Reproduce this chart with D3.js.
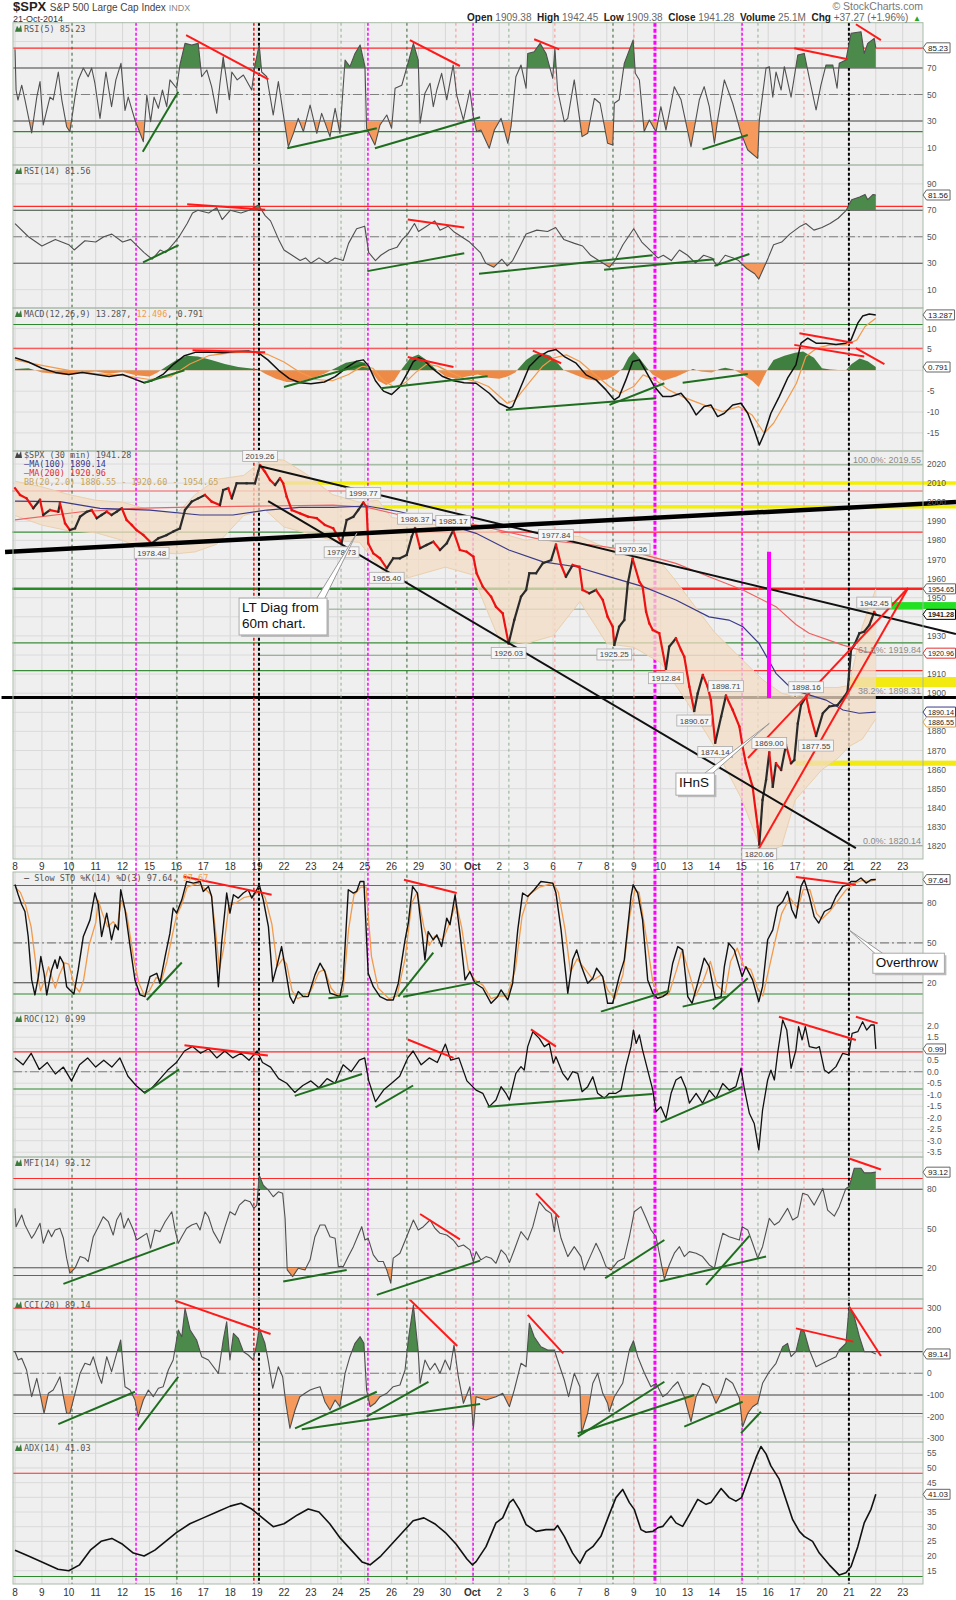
<!DOCTYPE html>
<html><head><meta charset="utf-8">
<script src="https://cdn.jsdelivr.net/npm/d3@7"></script>
<style>html,body{margin:0;padding:0;background:#fff}svg{display:block;font-family:Arial,"Liberation Sans",sans-serif}</style>
</head><body><svg id="chart" width="956" height="1600"></svg>
<script>
// ---------------- DATA (time in trading days from 8-Sep, value in indicator units) ----------------
const dateLabels = ["8","9","10","11","12","15","16","17","18","19","22","23","24","25","26","29","30","Oct","2","3","6","7","8","9","10","13","14","15","16","17","20","21","22","23"];
const markerDays  = [2.12,4.5,6.02,8.88,9.07,12.12,13.12,14.57,16.39,17.03,18.36,20.07,22.23,23.01,23.79,27.03,27.62,29.33,31.0];
const markerKinds = ["dg","mg","dg","rd","bk","gg","mg","dg","lr","mg","gg","lr","dg","lr","mgT","mg","gg","lr","bk"];

const rsi5 = [[0,84.1],[0.04,53.4],[0.11,45.8],[0.25,57],[0.37,46],[0.62,21],[0.81,48],[0.93,59.7],[1.05,27],[1.30,48],[1.42,46],[1.61,67],[1.74,46],[1.92,25.7],[2.04,22],[2.23,48],[2.35,61],[2.54,70],[2.72,63.4],[2.85,70],[2.97,58.5],[3.16,32],[3.38,67],[3.59,40.8],[3.75,61],[3.94,73.5],[4.09,38],[4.21,48],[4.46,30.7],[4.77,14.4],[4.90,49.6],[5.04,29.5],[5.17,48],[5.33,39.6],[5.48,53.4],[5.64,40.8],[5.76,61],[6.01,54.7],[6.13,72.3],[6.32,88.6],[6.57,87.4],[6.81,88.6],[6.94,63.4],[7.13,68.5],[7.31,55.9],[7.50,35.8],[7.62,58.5],[7.74,78.5],[7.97,46],[8.06,67],[8.26,61],[8.49,64.7],[8.80,53.4],[8.92,72.3],[9.08,87.4],[9.17,67],[9.36,63.4],[9.60,34.5],[9.79,59.7],[9.97,35.8],[10.16,10.6],[10.35,20.7],[10.53,32],[10.72,22],[10.97,42],[11.22,20.7],[11.40,35.8],[11.71,18.2],[11.90,39.6],[12.08,20.7],[12.27,76],[12.45,71],[12.64,81],[12.83,87.4],[13.01,71],[13.07,24.5],[13.38,11.9],[13.57,27],[13.82,34.5],[14.00,24.5],[14.13,54.7],[14.38,57],[14.56,70],[14.81,88.6],[14.99,76],[15.06,28.3],[15.24,51],[15.43,58.5],[15.55,40.8],[15.68,53.4],[15.86,66],[16.05,46],[16.29,72.3],[16.42,49.6],[16.67,30.7],[16.91,53.4],[17.04,33.2],[17.16,22],[17.32,23.2],[17.63,9.4],[17.82,23.2],[18.07,32],[18.32,13.2],[18.44,25.7],[18.62,63.4],[18.81,72.3],[19.00,54.7],[19.06,81],[19.30,82.3],[19.52,88.6],[19.74,81],[19.99,62.2],[20.07,84.9],[20.17,53.4],[20.42,29.5],[20.55,32],[20.79,61],[21.08,18.2],[21.29,20.7],[21.54,47],[21.75,43.4],[22.03,13.2],[22.22,11.9],[22.28,43.4],[22.46,46],[22.65,73.5],[22.98,91.1],[23.06,66],[23.21,61],[23.39,22],[23.58,30.7],[23.83,22],[24.01,40.8],[24.20,23.2],[24.51,55.9],[24.76,46],[25.13,10.6],[25.44,46],[25.62,55.9],[25.81,40.8],[26.00,13.2],[26.12,30.7],[26.37,61],[26.68,43.4],[26.99,20.7],[27.24,8.1],[27.61,1.8],[27.67,30.7],[27.92,70],[28.04,71],[28.17,48],[28.29,67],[28.48,53.4],[28.60,71],[28.85,48],[29.10,79.8],[29.34,81],[29.53,62.2],[29.78,38.3],[29.96,57],[30.15,72.3],[30.40,72.3],[30.56,54.7],[30.64,73.5],[30.89,76],[31.08,96.2],[31.45,97.4],[31.57,81],[31.70,88.6],[31.94,92.4],[32.0,85.23]];

const rsi14 = [[0,60],[0.5,50],[1.0,43],[1.5,48],[2.0,44],[2.2,40],[2.6,47],[3.0,46],[3.3,50],[3.6,52],[4.0,46],[4.3,48],[4.6,42],[4.8,38],[5.1,33],[5.4,40],[5.6,38],[5.9,45],[6.1,50],[6.4,60],[6.6,68],[6.8,70],[7.2,68],[7.5,72],[7.7,63],[8.0,70],[8.4,68],[8.7,70],[9.05,74],[9.3,66],[9.5,62],[9.8,48],[10.0,40],[10.3,36],[10.6,32],[10.8,34],[11.0,30],[11.3,34],[11.6,30],[11.9,34],[12.2,32],[12.4,45],[12.7,56],[13.0,58],[13.15,38],[13.4,32],[13.6,36],[13.9,40],[14.2,42],[14.4,48],[14.6,52],[14.85,60],[15.0,54],[15.3,58],[15.6,62],[15.8,55],[16.1,58],[16.3,54],[16.6,50],[16.9,46],[17.1,42],[17.3,38],[17.5,30],[17.8,27],[18.1,33],[18.3,28],[18.5,32],[18.8,44],[19.0,52],[19.4,55],[19.8,54],[20.1,57],[20.4,48],[20.8,45],[21.1,43],[21.4,36],[21.7,32],[22.1,27],[22.3,32],[22.6,44],[23.0,56],[23.3,46],[23.6,40],[23.9,34],[24.1,36],[24.4,32],[24.7,40],[25.0,36],[25.3,30],[25.6,36],[25.9,34],[26.1,28],[26.4,36],[26.7,34],[26.9,32],[27.2,26],[27.5,22],[27.65,18],[28.0,34],[28.2,44],[28.5,46],[28.8,52],[29.2,58],[29.4,60],[29.7,55],[30.0,57],[30.3,60],[30.6,64],[30.9,70],[31.1,78],[31.4,80],[31.6,82],[31.7,78],[31.9,82],[32,81.56]];

const macdLine = [[0,3],[0.5,2],[1.0,0.5],[1.5,-0.5],[2.0,-1],[2.5,-0.5],[3.0,-1],[3.5,-1.5],[4.0,-1],[4.4,-2],[4.8,-3],[5.1,-2.5],[5.5,-1],[5.9,1.5],[6.3,3.5],[6.7,4.3],[7.2,4.4],[7.7,4.2],[8.2,4.5],[8.7,4.6],[9.05,4.2],[9.4,2.5],[9.8,0],[10.2,-2],[10.6,-3],[11.0,-3.2],[11.5,-2.8],[11.9,-1.5],[12.3,0.5],[12.7,2.2],[12.95,2.5],[13.15,1],[13.4,-2.5],[13.7,-5],[14.0,-5.8],[14.3,-4],[14.6,-0.5],[14.8,2],[15.0,3],[15.2,2.5],[15.5,0.5],[15.9,-1.5],[16.3,-2.5],[16.7,-3],[17.14,-3.1],[17.63,-5.5],[18.0,-7.9],[18.38,-9.1],[18.5,-8.7],[18.81,-3.9],[19.12,0.9],[19.49,3.3],[19.8,4.5],[20.11,5.0],[20.42,3.3],[20.86,1.7],[21.23,-1.1],[21.6,-2.3],[21.97,-4.7],[22.28,-7.1],[22.46,-6.3],[22.71,-2.3],[22.96,2.1],[23.21,2.5],[23.46,-0.3],[23.77,-3.9],[24.08,-6.3],[24.39,-6.3],[24.76,-5.5],[25.07,-7.9],[25.32,-10.7],[25.62,-8.7],[25.87,-8.3],[26.12,-11.1],[26.37,-10.3],[26.68,-8.3],[26.99,-7.9],[27.24,-10.3],[27.48,-14.3],[27.67,-17.9],[27.86,-15.1],[28.1,-10.3],[28.41,-6.3],[28.72,-1.9],[29.03,1.3],[29.22,6.5],[29.47,7.7],[29.78,6.5],[30.15,6.5],[30.52,6.2],[30.89,6.5],[31.08,7.3],[31.33,11.3],[31.51,13.0],[31.76,13.5],[32,13.287]];
const macdSignal = [[0,2.5],[1,1.2],[2,0],[3,-0.8],[4,-1.2],[5,-2.2],[5.8,-1.5],[6.5,1.5],[7.2,3.5],[8,4.2],[8.8,4.4],[9.4,3.8],[10,2],[10.6,-0.5],[11.2,-2.2],[11.8,-2.5],[12.4,-1],[12.9,1],[13.3,0.5],[13.7,-2.5],[14.1,-4],[14.5,-3],[14.9,-0.5],[15.3,1.5],[15.7,1],[16.2,-0.5],[16.7,-2],[17.2,-2.8],[17.6,-3.9],[18.3,-7.9],[18.6,-7.1],[19.1,-3.1],[19.6,0.9],[20,2.9],[20.5,3.7],[21,2.1],[21.5,-0.7],[22.1,-3.9],[22.5,-5.5],[23,-3.9],[23.35,-1.1],[23.8,-2.3],[24.3,-4.7],[24.8,-6.3],[25.6,-8.3],[26.3,-9.9],[26.9,-8.7],[27.4,-10.7],[27.85,-15.1],[28.2,-12.7],[28.7,-7.1],[29.05,-3.1],[29.4,3.3],[29.8,5.3],[30.3,6.1],[30.9,6.1],[31.3,7.3],[31.6,10.5],[32,12.496]];
const macdHist = [[0,0.3],[0.5,0.5],[1.0,-0.5],[1.5,-0.8],[2.0,-1.2],[2.5,-0.5],[3.0,-0.3],[3.5,-0.8],[4.0,-0.4],[4.5,-1.2],[5.0,-1.5],[5.3,-0.5],[5.6,0.8],[6.0,2.5],[6.4,3.5],[6.8,3.3],[7.3,2.5],[7.8,1.5],[8.3,0.8],[8.7,0.5],[9.0,0.3],[9.3,-0.8],[9.7,-2],[10.1,-2.8],[10.5,-2.8],[11.0,-2],[11.5,-0.8],[11.9,0.5],[12.3,1.8],[12.7,2.3],[13.0,1.8],[13.2,0.2],[13.5,-2.5],[13.8,-3.5],[14.1,-2.5],[14.4,0.5],[14.7,3],[15.0,3.8],[15.3,2.5],[15.6,0.5],[16.0,-1.5],[16.4,-2],[16.8,-1.5],[17.2,-1],[17.6,-1.8],[18.0,-2],[18.3,-1.5],[18.6,-0.5],[18.7,0.3],[19.0,2.5],[19.3,3.8],[19.6,4.1],[19.9,3.5],[20.2,1.5],[20.4,0],[20.8,-1],[21.2,-2],[21.6,-2.5],[22.0,-2.2],[22.3,-1.2],[22.6,0.5],[22.8,3],[23.0,4.5],[23.2,3],[23.5,0.5],[23.7,-1],[24.1,-2.5],[24.6,-1.5],[25.0,-0.3],[25.2,0.3],[25.5,-0.3],[25.9,-0.5],[26.2,0.3],[26.4,0.6],[26.7,0.2],[27.0,-0.8],[27.4,-2.5],[27.65,-4],[27.8,-2],[28.0,0.5],[28.2,2.5],[28.6,3.5],[29.0,4.2],[29.3,4.5],[29.7,3],[30.0,0.5],[30.3,0.2],[30.6,0.1],[30.9,0.1],[31.1,1.5],[31.4,2.8],[31.7,2.2],[32,0.791]];

const priceClose = [[0,2007.3],[0.19,2003.8],[0.43,2002],[0.68,1996.8],[0.93,2001.2],[1.05,1993.3],[1.30,1995.9],[1.61,1995],[1.67,1999.4],[1.86,1989],[2.04,1985.4],[2.23,1986.3],[2.42,1992.4],[2.67,1995],[2.85,1995.9],[3.04,1991.6],[3.22,1993.3],[3.41,1995],[3.59,1993.3],[3.78,1995],[3.97,1996.8],[4.15,1990.7],[4.34,1988.1],[4.52,1985.4],[4.77,1982.8],[5.08,1978.5],[5.33,1981.1],[5.64,1982.8],[5.88,1984.6],[6.13,1986.3],[6.32,1995.9],[6.57,2000.3],[6.81,2002],[7.06,2003.8],[7.31,2000.3],[7.62,1998.5],[7.74,2006.4],[7.93,2007.3],[8.06,2002],[8.24,2009.9],[8.61,2009.9],[8.92,2009.9],[9.04,2016],[9.11,2019.3],[9.29,2016],[9.48,2011.6],[9.67,2009],[9.85,2012.5],[9.97,2009.9],[10.10,2002.9],[10.29,1995.9],[10.59,1994.2],[10.90,1992.4],[11.22,1991.6],[11.52,1988.1],[11.83,1986.3],[12.14,1978.7],[12.33,1990.7],[12.58,1992.4],[12.76,1995.9],[12.95,1999.8],[13.07,1997.6],[13.13,1978.5],[13.32,1973.2],[13.57,1970.6],[13.82,1965.4],[14.06,1970.6],[14.31,1970.6],[14.56,1972.4],[14.75,1982],[14.87,1986.4],[15.06,1975.9],[15.30,1977.6],[15.55,1979.3],[15.80,1975],[16.05,1978.5],[16.29,1985.2],[16.54,1975],[16.79,1974.1],[17.04,1971.5],[17.16,1962.8],[17.39,1955.8],[17.70,1950.5],[17.88,1945.3],[18.13,1941.8],[18.35,1926.0],[18.56,1938.3],[18.81,1950.5],[19.00,1954],[19.12,1962.8],[19.37,1962.8],[19.62,1968],[19.93,1969.7],[20.11,1977.8],[20.30,1967.1],[20.48,1961],[20.73,1967.1],[20.98,1966.2],[21.10,1954],[21.35,1952.3],[21.60,1954],[21.85,1948.8],[22.03,1940],[22.22,1934.8],[22.28,1925.3],[22.46,1934.8],[22.65,1938.3],[22.78,1957.5],[22.96,1970.4],[23.21,1958.4],[23.33,1955.8],[23.46,1942.7],[23.58,1936.6],[23.71,1933.1],[23.95,1931.4],[24.20,1912.8],[24.32,1924.3],[24.57,1928.7],[24.76,1922.6],[24.88,1919.1],[25.07,1903.4],[25.25,1890.7],[25.38,1899.9],[25.57,1909.5],[25.75,1903.4],[25.87,1896.4],[26.03,1874.1],[26.25,1887.7],[26.43,1898.7],[26.68,1891.2],[26.93,1882.5],[27.05,1872],[27.17,1863.3],[27.42,1851],[27.61,1830.1],[27.67,1820.7],[27.79,1844.1],[27.92,1854.6],[28.04,1869.0],[28.17,1851],[28.29,1863.3],[28.48,1859.8],[28.66,1872.9],[28.85,1863.3],[28.97,1865],[29.10,1884.2],[29.22,1893.8],[29.41,1898.2],[29.53,1890.3],[29.78,1877.6],[30.03,1889.5],[30.27,1893],[30.58,1893.8],[30.83,1898.2],[30.95,1900.8],[31.08,1922.6],[31.20,1925.2],[31.39,1931.4],[31.57,1932.2],[31.76,1935.7],[31.94,1942.45],[32.0,1941.28]];
const ma100 = [[0,2000.6],[1.67,2000.3],[3.16,1996.8],[5.02,1995.9],[6.88,1993.3],[8.10,1993.3],[9.37,1995.9],[10.59,1997.3],[11.82,1997.3],[13.09,1998],[14.31,1995],[15.54,1990.7],[17.14,1983.7],[18.36,1975],[19.63,1968.8],[20.86,1966.2],[22.08,1961],[23.35,1955.8],[24.57,1948.8],[25.8,1940],[26.54,1938.3],[27.06,1934.8],[27.66,1926.1],[28.29,1910.4],[28.92,1901.7],[29.52,1899.1],[30.15,1896.4],[30.78,1891.2],[31.38,1889.5],[32,1890.14]];
const ma200 = [[0,1990.7],[2.48,1995],[4.39,1996.8],[6.88,1997.6],[9.37,1998],[11.82,1998.5],[13.09,1997.3],[14.31,1993.3],[15.54,1990.7],[17.14,1988.1],[19.63,1980.2],[21.49,1977.6],[22.71,1975],[24.57,1968],[25.8,1961],[27.06,1954],[28.29,1945.3],[29.03,1936],[29.52,1931.4],[30.78,1925.2],[31.64,1921.7],[32,1920.96]];
const bbUpper = [[0,2011],[1,2008],[2,2004],[3,2001],[4,2000],[5,1996],[6,1994],[6.7,2004],[7.5,2012],[8.5,2014],[9.3,2023],[10,2022],[10.8,2015],[11.8,2004],[12.8,2000],[13.5,2001],[14,1992],[15,1990],[16,1987],[17,1988],[18,1984],[19,1980],[20,1983],[21,1982],[22,1976],[23,1974],[23.8,1972],[24.5,1960],[25.3,1945],[26,1932],[27,1918],[27.8,1907],[28.5,1900],[29,1898],[30,1903],[30.6,1903],[31,1904],[31.5,1935],[32,1954.65]];
const bbLower = [[0,1993],[1,1988],[2,1985],[3,1984],[4,1980],[5,1974],[6,1973],[6.7,1974],[7.5,1978],[8.5,1993],[9.3,1996],[10,1987],[10.8,1984],[11.8,1980],[12.8,1979],[13.5,1967],[14,1958],[15,1962],[16,1966],[17,1962],[18,1928],[19,1926],[20,1930],[21,1948],[22,1926],[23,1924],[24,1916],[25,1895],[26,1872],[27,1845],[27.8,1816],[28.5,1820],[29,1844],[30,1860],[30.6,1866],[31,1872],[31.5,1876],[32,1886.55]];
const priceHighLabels = [[9.11,2019.26,"2019.26"],[12.95,1999.77,"1999.77"],[14.87,1986.37,"1986.37"],[16.29,1985.17,"1985.17"],[20.11,1977.84,"1977.84"],[22.96,1970.36,"1970.36"],[26.43,1898.71,"1898.71"],[28.04,1869.00,"1869.00"],[29.41,1898.16,"1898.16"],[31.94,1942.45,"1942.45"]];
const priceLowLabels = [[5.08,1978.48,"1978.48"],[12.14,1978.73,"1978.73"],[13.82,1965.40,"1965.40"],[18.35,1926.03,"1926.03"],[22.28,1925.25,"1925.25"],[24.20,1912.84,"1912.84"],[25.25,1890.67,"1890.67"],[26.03,1874.14,"1874.14"],[27.67,1820.66,"1820.66"],[29.78,1877.55,"1877.55"]];

const stoK = [[0,93.9],[0.12,86.2],[0.25,78.7],[0.37,73.6],[0.49,54.8],[0.62,22.1],[0.74,10.8],[0.87,24.6],[0.96,39.7],[1.08,27.1],[1.18,10.8],[1.36,29.6],[1.49,37.2],[1.57,30.9],[1.67,39.7],[1.80,34.7],[1.92,17],[2.19,11.5],[2.35,29.6],[2.54,54.8],[2.79,67.3],[2.97,87.5],[3.10,78.7],[3.22,54.8],[3.41,72.4],[3.59,52.3],[3.72,63.6],[3.84,59.8],[3.93,90],[4.09,74.9],[4.28,47.2],[4.46,22.1],[4.65,10.8],[4.83,9.5],[5.02,24.6],[5.27,27.1],[5.39,19.6],[5.58,39.7],[5.76,57.3],[5.88,76.2],[6.01,72.4],[6.20,82.4],[6.38,96.2],[6.63,95],[6.88,96.2],[7.00,88.7],[7.19,92.5],[7.31,84.9],[7.43,54.8],[7.56,17],[7.68,49.8],[7.87,87.5],[7.99,72.4],[8.12,86.2],[8.30,83.7],[8.49,87.5],[8.67,90],[8.80,83.7],[8.99,90],[9.08,93.7],[9.23,82.4],[9.42,62.3],[9.58,20.8],[9.73,32.1],[9.91,47.2],[10.04,32.1],[10.22,9.5],[10.35,4.5],[10.53,13.3],[10.72,9.5],[10.90,9.5],[11.15,25.9],[11.34,34.7],[11.52,28.4],[11.71,12.1],[11.90,10.8],[12.08,9.5],[12.20,22.1],[12.39,90],[12.58,87.5],[12.70,88.7],[12.83,96.2],[12.97,96.2],[13.13,27.1],[13.32,17],[13.57,9.5],[13.82,7],[14.06,7],[14.25,19.6],[14.50,52.3],[14.62,64.9],[14.78,92.5],[14.96,87.5],[15.12,59.8],[15.24,37.2],[15.36,58.5],[15.55,52.3],[15.68,56],[15.86,47.2],[16.05,68.6],[16.17,63.6],[16.36,86.2],[16.54,57.3],[16.73,22.1],[16.91,28.4],[17.10,19.6],[17.39,15.8],[17.70,4.5],[17.94,9.5],[18.07,14.6],[18.32,7],[18.50,19.6],[18.69,59.8],[18.87,87.5],[19.06,84.9],[19.30,90],[19.55,96.2],[19.99,95],[20.11,87.5],[20.30,59.8],[20.55,12.1],[20.73,37.2],[20.88,44.7],[21.04,33.4],[21.29,19.6],[21.48,23.4],[21.62,30.9],[21.85,24.6],[22.03,4.5],[22.22,4.5],[22.46,24.6],[22.65,37.2],[22.90,84.9],[22.98,93.7],[23.15,87.5],[23.33,67.3],[23.52,22.1],[23.71,12.1],[23.89,8.3],[24.08,9.5],[24.26,12.1],[24.45,34.7],[24.64,47.2],[24.82,44.7],[25.01,9.5],[25.17,4.5],[25.38,19.6],[25.62,38.5],[25.81,32.1],[26.03,8.3],[26.25,9.5],[26.37,32.1],[26.53,49.8],[26.74,44.7],[27.03,24.6],[27.17,32.1],[27.42,22.1],[27.65,5.7],[27.79,17],[27.98,52.3],[28.17,59.8],[28.35,77.4],[28.54,81.1],[28.72,88.7],[28.88,74.9],[29.03,68.6],[29.22,92.5],[29.34,97.5],[29.53,84.9],[29.71,69.8],[29.88,64.9],[30.09,73.6],[30.33,76.2],[30.52,84.9],[30.77,92.5],[30.96,93.7],[31.08,96.2],[31.26,96.2],[31.45,98.8],[31.64,95],[31.82,97.5],[32,97.64]];
const stoD = [[0,92],[0.2,88],[0.4,78],[0.6,62],[0.8,30],[0.95,14],[1.1,22],[1.25,32],[1.4,22],[1.5,16],[1.65,26],[1.85,35],[2.0,34],[2.2,18],[2.4,13],[2.55,22],[2.75,48],[3.0,65],[3.1,82],[3.25,72],[3.45,62],[3.65,66],[3.8,62],[3.95,82],[4.15,72],[4.4,40],[4.6,20],[4.8,11],[5.0,14],[5.25,24],[5.45,22],[5.65,36],[5.85,56],[6.0,70],[6.2,79],[6.4,92],[6.8,95],[7.1,90],[7.3,86],[7.45,60],[7.6,30],[7.75,45],[7.95,78],[8.2,80],[8.5,84],[8.9,86],[9.1,90],[9.3,84],[9.55,64],[9.75,32],[9.95,38],[10.1,34],[10.3,14],[10.5,8],[10.75,10],[11.0,14],[11.3,28],[11.5,30],[11.75,16],[12.0,10],[12.2,14],[12.4,60],[12.6,86],[12.85,92],[13.05,92],[13.25,40],[13.5,16],[13.9,8],[14.2,10],[14.5,38],[14.75,80],[14.95,88],[15.2,62],[15.4,48],[15.6,55],[15.9,52],[16.1,62],[16.4,80],[16.6,62],[16.85,30],[17.1,22],[17.4,18],[17.7,8],[18.0,10],[18.3,10],[18.6,30],[18.85,70],[19.1,86],[19.5,92],[20.0,95],[20.2,88],[20.45,60],[20.65,28],[20.9,38],[21.2,30],[21.5,22],[21.8,26],[22.05,14],[22.3,8],[22.6,26],[22.85,70],[23.05,90],[23.2,88],[23.5,50],[23.7,22],[23.95,10],[24.3,11],[24.6,30],[24.8,45],[25.05,28],[25.3,10],[25.6,22],[25.85,36],[26.1,18],[26.4,12],[26.6,36],[26.85,46],[27.1,32],[27.35,30],[27.6,16],[27.8,10],[28.0,28],[28.3,55],[28.5,72],[28.8,84],[29.1,76],[29.3,90],[29.55,90],[29.8,72],[30.0,68],[30.3,74],[30.6,82],[30.9,90],[31.2,95],[31.5,97],[31.75,96],[32,97.67]];

const roc = [[0,0.6],[0.3,0.3],[0.6,0.8],[0.9,0.1],[1.2,0.4],[1.5,-0.1],[1.8,0.2],[2.1,-0.4],[2.4,0.3],[2.7,0.6],[3.0,0.2],[3.3,0.5],[3.6,0.2],[3.9,0.6],[4.2,-0.2],[4.5,-0.6],[4.8,-0.9],[5.1,-0.7],[5.4,-0.3],[5.7,0.1],[6.0,0.4],[6.3,0.9],[6.6,1.1],[6.9,0.8],[7.2,1.0],[7.5,0.6],[7.8,0.9],[8.1,0.6],[8.4,0.8],[8.7,0.5],[9.0,0.9],[9.2,0.4],[9.5,0.2],[9.8,-0.3],[10.1,-0.5],[10.4,-0.9],[10.7,-0.6],[11.0,-0.4],[11.3,-0.7],[11.6,-0.3],[11.9,-0.5],[12.2,0.3],[12.5,0.0],[12.8,0.5],[13.0,0.6],[13.15,-0.4],[13.4,-1.3],[13.7,-0.8],[14.0,-0.5],[14.3,-0.2],[14.6,0.6],[14.8,0.9],[15.1,0.3],[15.4,0.6],[15.7,0.4],[16.0,1.2],[16.2,0.5],[16.5,0.6],[16.8,-0.4],[17.14,-0.8],[17.39,-0.94],[17.63,-1.52],[17.88,-1.23],[18.07,-0.65],[18.25,-0.94],[18.38,-1.23],[18.50,-0.65],[18.62,-0.07],[18.81,0.22],[18.93,0.07],[19.06,1.09],[19.25,1.74],[19.49,1.45],[19.68,1.09],[19.86,1.23],[20.01,0.37],[20.11,0.65],[20.36,-0.07],[20.55,-0.36],[20.73,0],[20.92,-0.07],[21.08,-0.87],[21.29,-0.65],[21.48,-0.22],[21.66,-0.94],[21.91,-1.16],[22.09,-0.94],[22.34,-0.94],[22.53,-0.8],[22.71,0.22],[22.90,1.09],[22.99,1.81],[23.09,1.23],[23.21,1.6],[23.33,0.94],[23.52,0.07],[23.71,-0.8],[23.83,-1.74],[24.01,-1.52],[24.20,-2.03],[24.39,-0.94],[24.57,-0.36],[24.76,-0.22],[24.94,-0.72],[25.07,-1.37],[25.32,-0.94],[25.56,-1.37],[25.81,-0.8],[26.06,-1.16],[26.31,-0.51],[26.55,-0.8],[26.80,-0.65],[26.99,0.15],[27.11,-0.72],[27.30,-1.81],[27.48,-2.25],[27.65,-3.4],[27.79,-1.67],[27.98,-0.36],[28.10,0.07],[28.23,-0.36],[28.35,0.8],[28.54,2.25],[28.69,1.81],[28.85,0.15],[29.03,0.94],[29.13,1.96],[29.26,1.38],[29.38,1.96],[29.53,1.09],[29.78,1.02],[29.90,1.09],[30.09,0.07],[30.25,-0.07],[30.52,0.22],[30.77,0.8],[30.99,0.73],[31.12,1.67],[31.33,1.74],[31.51,2.17],[31.66,1.81],[31.82,2.03],[31.94,2.03],[32.0,0.99]];

const mfi = [[0,65.4],[0.04,51.4],[0.25,60.3],[0.37,52.7],[0.62,42.5],[0.74,46.3],[0.93,54],[1.05,38.7],[1.24,48.9],[1.36,43.7],[1.49,48.9],[1.67,50.2],[1.80,42.5],[1.92,27.3],[2.04,15.8],[2.23,19.6],[2.42,28.5],[2.60,27.3],[2.72,24.7],[2.91,43.7],[3.10,51.4],[3.28,59],[3.47,55.2],[3.65,45],[3.78,56.5],[3.93,62],[4.05,50.2],[4.21,57.8],[4.40,48.9],[4.52,41.2],[4.71,43.7],[4.90,46.3],[5.04,34.9],[5.20,48.9],[5.39,47.6],[5.58,55.2],[5.83,62.8],[5.95,48.9],[6.07,38.7],[6.20,43.7],[6.38,50.2],[6.57,52.7],[6.75,54],[6.88,48.9],[7.06,62.8],[7.19,59],[7.37,47.6],[7.62,38.7],[7.81,51.4],[7.99,62.8],[8.18,60.3],[8.34,67.9],[8.55,71.8],[8.74,70.5],[8.88,65.4],[8.99,67.9],[9.08,90.8],[9.23,83.2],[9.42,79.4],[9.60,74.3],[9.79,78.1],[9.95,76.9],[10.04,57.8],[10.12,18.3],[10.32,13.2],[10.53,19.6],[10.78,18.3],[10.97,26],[11.15,43.7],[11.34,52.7],[11.52,52.7],[11.71,43.7],[11.90,42.5],[12.02,20.8],[12.20,20.8],[12.39,28.5],[12.58,36.1],[12.76,45],[12.89,51.4],[13.01,41.2],[13.13,42.5],[13.32,29.8],[13.51,24.7],[13.69,24.7],[13.82,18.3],[13.97,8.2],[14.06,27.3],[14.31,31.1],[14.56,43.7],[14.81,56.5],[14.99,48.9],[15.18,51.4],[15.43,56.5],[15.61,50.2],[15.80,46.3],[16.05,45],[16.29,41.2],[16.48,36.1],[16.67,37.4],[16.91,33.6],[17.04,24.7],[17.14,32.3],[17.32,26],[17.51,28.5],[17.70,27.3],[17.88,23.4],[18.07,33.6],[18.25,29.8],[18.38,23.9],[18.56,33.6],[18.81,47.6],[19.06,41.2],[19.25,51.4],[19.49,70.5],[19.74,64.1],[19.93,61.6],[20.05,47.6],[20.11,60.3],[20.30,42.5],[20.55,28.5],[20.79,36.1],[21.04,28.5],[21.16,18.3],[21.41,29.8],[21.60,38.7],[21.78,31.1],[21.97,20.8],[22.16,18.3],[22.40,24.7],[22.65,27.3],[22.84,43.7],[23.02,62.8],[23.27,66.7],[23.46,57.8],[23.64,48.9],[23.83,43.7],[24.01,24.7],[24.14,11.2],[24.32,22.1],[24.51,31.1],[24.70,36.1],[24.88,28.5],[25.07,32.3],[25.32,31.1],[25.56,28.5],[25.81,22.1],[26.00,19.6],[26.12,31.1],[26.31,46.3],[26.55,43.7],[26.93,41.2],[27.03,51.4],[27.24,48.9],[27.42,38.7],[27.61,27.3],[27.79,36.1],[28.04,57.8],[28.23,52.7],[28.41,55.2],[28.72,65.4],[28.91,56.5],[29.10,59],[29.28,76.9],[29.47,75.6],[29.71,67.9],[30.03,80.7],[30.21,64.1],[30.46,59.5],[30.64,66.7],[30.89,80.7],[31.01,82.1],[31.20,96.1],[31.45,96.1],[31.57,92.6],[31.82,92.6],[32,93.12]];

const cci = [[0,99.5],[0.12,61.3],[0.25,69.1],[0.43,15.2],[0.62,-107.8],[0.81,-23],[0.93,-92.2],[1.08,-184.3],[1.24,-92.2],[1.42,-77],[1.55,-46],[1.67,-15.7],[1.80,-107.8],[1.92,-184.3],[2.04,-184.3],[2.23,-92.2],[2.42,0],[2.60,46],[2.79,38.2],[2.91,76.5],[3.10,-7.8],[3.22,-46],[3.41,76.5],[3.59,7.4],[3.78,92.2],[3.93,153.5],[4.09,-61.8],[4.28,-77],[4.46,-123],[4.58,-200],[4.77,-123],[4.96,-77],[5.14,-107.8],[5.33,-69],[5.51,-61.8],[5.70,15.2],[5.88,61.3],[6.07,199.5],[6.20,168.7],[6.32,299.5],[6.51,199.5],[6.75,153.5],[6.94,76.5],[7.19,61.3],[7.56,0],[7.74,153.5],[7.87,237.8],[7.99,61.3],[8.12,184.3],[8.30,161.3],[8.49,99.5],[8.67,84.3],[8.86,61.3],[8.99,138.2],[9.08,207.4],[9.29,138.2],[9.42,53.5],[9.58,-69],[9.79,30.4],[9.95,-15.7],[10.07,-138.2],[10.22,-253.5],[10.41,-169.1],[10.59,-107.8],[10.78,-92.2],[10.97,-77],[11.15,-69],[11.34,-61.8],[11.52,-130.9],[11.71,-169.1],[11.90,-123],[12.08,-153.9],[12.27,0],[12.45,76.5],[12.64,138.2],[12.83,168.7],[12.97,138.2],[13.07,-77],[13.20,-153.9],[13.38,-138.2],[13.57,-107.8],[13.82,-92.2],[14.06,-61.8],[14.31,-53.9],[14.50,15.2],[14.62,153.5],[14.81,314.7],[14.99,99.5],[15.06,-46],[15.24,61.3],[15.43,15.2],[15.61,46],[15.80,0],[15.99,61.3],[16.17,15.2],[16.32,130.4],[16.48,-15.7],[16.67,-138.2],[16.91,-61.8],[17.04,-253.5],[17.14,-107.8],[17.51,-123],[17.88,-107.8],[18.13,-92.2],[18.38,-153.9],[18.56,-77],[18.81,46],[19.00,30.4],[19.12,230.4],[19.30,168.7],[19.55,122.6],[19.80,107.4],[20.05,107.4],[20.17,61.3],[20.42,-30.9],[20.58,-107.8],[20.79,0],[21.0,-61.8],[21.06,-276],[21.29,-184],[21.48,-46],[21.66,0],[21.85,-92],[22.03,-138],[22.09,-177],[22.28,-108],[22.59,-46],[22.84,107],[22.99,150],[23.15,76.5],[23.40,0],[23.64,-62],[23.83,-46],[24.08,-108],[24.26,-92],[24.45,-62],[24.64,-39],[24.88,-108],[25.13,-223],[25.32,-108],[25.56,-46],[25.81,-62],[26.06,-138],[26.25,-92],[26.43,-23],[26.68,-46],[26.93,-115],[27.05,-246],[27.24,-184],[27.42,-154],[27.61,-138],[27.79,-46],[28.04,7],[28.29,46],[28.54,123],[28.72,138],[28.85,76.5],[29.03,99.5],[29.22,199.5],[29.34,191.7],[29.53,107.4],[29.78,30.4],[30.03,46],[30.27,61.3],[30.52,76.5],[30.64,107.4],[30.89,138.2],[31.01,307],[31.20,261],[31.39,168.7],[31.57,99.5],[31.82,99.5],[32,89.14]];

const adx = [[0,22],[0.5,20],[1.0,18],[1.6,15.5],[2.0,15],[2.4,17],[2.8,22],[3.2,25],[3.6,26],[4.0,24],[4.4,21],[4.8,20],[5.2,22],[5.6,25],[6.0,28],[6.5,31],[7.0,33],[7.5,35],[8.0,37],[8.4,38],[8.8,36],[9.2,33],[9.6,30],[10.0,31],[10.5,34],[10.9,36],[11.3,35],[11.7,31],[12.1,26],[12.5,22],[12.9,18],[13.2,17],[13.6,20],[14.0,24],[14.4,28],[14.8,32],[15.2,33],[15.6,31],[16.0,28],[16.4,24],[16.8,19],[17.0,17],[17.14,18.1],[17.51,23.2],[17.88,31.3],[18.13,33],[18.38,38.2],[18.52,39.3],[18.75,35.9],[19.0,30.7],[19.37,28.4],[19.74,29],[20.05,29],[20.17,30.4],[20.42,26.7],[20.73,21],[21.0,17.5],[21.23,21.5],[21.48,23.2],[21.78,26.7],[22.09,34.1],[22.34,39.9],[22.59,42.7],[22.84,38.2],[23.02,35.9],[23.27,29],[23.46,28.1],[23.71,28.4],[23.89,29.6],[24.08,30.1],[24.39,33.6],[24.57,31.3],[24.82,30.1],[25.07,34.1],[25.38,39.3],[25.69,37.6],[25.87,38.2],[26.25,43],[26.55,39.9],[26.8,38.7],[27.01,39.9],[27.3,47.3],[27.55,53.6],[27.73,57.3],[27.92,54.8],[28.1,50.7],[28.41,46.2],[28.66,39.3],[28.91,32.4],[29.16,28.4],[29.34,26.7],[29.65,25],[29.9,21],[30.27,17],[30.64,13.5],[30.89,14.3],[31.08,16.4],[31.33,23.2],[31.57,31.3],[31.82,35.9],[32,41.03]];

// trend lines [d1, v1, d2, v2]
const rsi5Red = [[6.36,94.9,9.42,61.5],[14.68,91.1,16.54,71.5],[19.3,91.7,20.23,84.1],[28.97,84.9,30.96,76.6],[31.26,103,32.19,91.1]];
const rsi5Green = [[4.75,6.8,6.07,52.1],[10.12,9.4,13.45,24.5],[13.38,9.4,17.29,32.8],[25.56,8.6,27.24,19.4]];
const rsi14Red = [[6.4,74.5,9.3,70.5],[14.6,63,16.7,57]];
const rsi14Green = [[4.76,30.6,6.08,43.6],[13.1,24,16.7,37.5],[17.25,22,23.7,36],[21.9,25,26.0,33],[26.0,28,27.3,37]];
const macdRed = [[6.6,4.8,9.3,4.3],[14.6,3.2,16.3,0.8],[19.25,4.7,20.3,1.7],[29.16,8.9,31.14,6.6],[28.97,6.1,31.57,3.3],[31.26,5.3,32.32,1.5]];
const macdGreen = [[4.8,-3,6.3,0],[10.0,-4,13.0,1.5],[13.6,-4.3,17.57,-1.4],[18.25,-9.5,23.83,-6.7],[22.1,-8.3,24.14,-3.1],[24.82,-3.0,27.24,-0.9]];
const priceBlackLines = [[9.07,2019.0,34.98,1931.0],[9.41,2000.6,31.26,1818.9]];
const priceLTLine = [-0.37,1973.9,34.98,2000.1];
const priceRedLines = [[27.25,1866.1,33.2,1955.1],[27.62,1817.9,33.2,1955.1]];
const stoRed = [[6.26,100,9.54,86.2],[14.46,97.5,16.42,87.5],[29.03,99.5,31.26,93.7]];
const stoGreen = [[4.9,7,6.2,35.2],[11.65,8.3,12.39,10],[14.25,9.5,15.55,42.7],[14.43,9.5,17.29,20.8],[21.78,-1.8,24.32,14],[24.82,2,26.43,9.5],[25.94,0,27.24,23.4]];
const rocRed = [[6.3,1.15,9.4,0.7],[14.6,1.4,16.3,0.6],[19.18,1.84,20.11,1.09],[28.4,2.39,31.26,1.38],[31.26,2.39,32.07,2.1]];
const rocGreen = [[4.8,-0.95,6.1,0.1],[10.4,-1.05,12.9,-0.1],[13.4,-1.55,14.8,-0.6],[17.57,-1.52,23.7,-0.97],[24.0,-2.2,27.05,-0.65]];
const mfiRed = [[15.06,61.1,16.54,41.7],[19.37,76.9,20.23,58.5],[31.01,103.6,32.19,95.2]];
const mfiGreen = [[1.8,7.6,5.95,39.2],[9.97,9.4,12.33,18.3],[13.45,-0.8,17.29,25.4],[21.94,12,24.14,41.2],[23.95,9.4,27.92,28.5],[25.69,6.9,27.3,44.3]];
const cciRed = [[5.95,335,9.5,181],[14.54,356,16.44,126],[19.06,269,20.38,92],[29.03,207,31.16,146],[31.01,307,32.19,80]];
const cciGreen = [[1.61,-234,4.46,-85],[4.58,-261,6.07,-16],[10.41,-254,13.45,-85],[13.07,-200,15.37,-39],[10.66,-258,17.29,-142],[20.92,-292,24.14,-39],[20.92,-276,25.25,-100],[24.88,-246,27.05,-131],[26.99,-276,27.73,-177]];

// current-value axis tags [panel, value, text, colorKey, bold]
const valBoxes = [["rsi5",85.23,"85.23","g",false],["rsi14",81.56,"81.56","g",false],["macd",13.287,"13.287","g",false],["macd",0.791,"0.791","g",false],
  ["price",1954.65,"1954.65","g",false],["price",1941.28,"1941.28","k",true],["price",1920.96,"1920.96","r",false],["price",1890.14,"1890.14","n",false],["price",1886.55,"1886.55","o",false],
  ["sto",97.64,"97.64","g",false],["roc",0.99,"0.99","g",false],["mfi",93.12,"93.12","g",false],["cci",89.14,"89.14","g",false],["adx",41.03,"41.03","g",false]];

// ---------------- LAYOUT ----------------
const svg = d3.select("#chart");
const PX0 = 13, PX1 = 923, WX1 = 956;
const x = d3.scaleLinear().domain([0,33]).range([15,902.7]);
const panels = {
  rsi5:{top:22.7,bottom:165,cal:[70,30,68,121],ticks:[90,70,50,30,10]},
  rsi14:{top:165,bottom:308,cal:[70,30,210.3,263.2],ticks:[90,70,50,30,10]},
  macd:{top:308,bottom:451,cal:[10,-10,328.6,412],ticks:[10,5,0,-5,-10,-15]},
  price:{top:451,bottom:859,cal:[2020,1820,464,846],ticks:d3.range(1820,2021,10)},
  sto:{top:872,bottom:1013,cal:[80,20,903,982.7],ticks:[80,50,20]},
  roc:{top:1013,bottom:1157,cal:[2,-2,1025.7,1117.7],ticks:[2,1.5,1,0.5,0,-0.5,-1,-1.5,-2,-2.5,-3,-3.5]},
  mfi:{top:1157,bottom:1299,cal:[80,20,1189.3,1267.7],ticks:[80,50,20]},
  cci:{top:1299,bottom:1442,cal:[300,-300,1308.2,1438.4],ticks:[300,200,100,0,-100,-200,-300]},
  adx:{top:1442,bottom:1584,cal:[55,15,1453.3,1570.7],ticks:[55,50,45,40,35,30,25,20,15]}
};
const defs = svg.append("defs");
function mkClip(id,x0,y0,x1,y1){defs.append("clipPath").attr("id",id).append("rect").attr("x",x0).attr("y",y0).attr("width",x1-x0).attr("height",y1-y0);return "url(#"+id+")";}
Object.entries(panels).forEach(([k,p])=>{
  p.y = d3.scaleLinear().domain([p.cal[0],p.cal[1]]).range([p.cal[2],p.cal[3]]);
  p.clip = mkClip("c_"+k,PX0,p.top,PX1,p.bottom);
  p.wclip = mkClip("w_"+k,0,p.top,WX1,p.bottom);
});

const gBg = svg.append("g"), gGrid = svg.append("g"), gLev = svg.append("g"), gMark = svg.append("g"),
      gSer = svg.append("g"), gTrend = svg.append("g"), gTxt = svg.append("g");

// backgrounds, grid and tick labels (tick labels hidden where a value tag covers them)
Object.entries(panels).forEach(([k,p])=>{
  gBg.append("rect").attr("x",PX0).attr("y",p.top).attr("width",PX1-PX0).attr("height",p.bottom-p.top).attr("fill","#efefef");
  d3.range(0,34).forEach(d=>{
    const xx = x(d); if (xx<PX0||xx>PX1) return;
    gGrid.append("line").attr("x1",xx).attr("x2",xx).attr("y1",p.top).attr("y2",p.bottom).attr("stroke","#d6d6d6").attr("stroke-width",1);
  });
  const tagYs = valBoxes.filter(b=>b[0]===k).map(b=>p.y(b[1]));
  p.ticks.forEach(t=>{
    const yy=p.y(t); if (yy<p.top||yy>p.bottom) return;
    gGrid.append("line").attr("x1",PX0).attr("x2",PX1).attr("y1",yy).attr("y2",yy).attr("stroke","#dadada").attr("stroke-width",1);
    if (tagYs.some(ty=>Math.abs(ty-yy)<8)) return;
    gTxt.append("text").attr("x",PX1+4).attr("y",yy+3).attr("font-size",8.5).attr("fill","#555")
      .text(k==="roc"?t.toFixed(1):String(t));
  });
});

// level lines
const RED="#ff2a2a", GRN="#2f8a2f", DK="#4a4a4a", DD="#808080";
const levelSpec = {
  rsi5:[[85,RED],[70,DK],[50,DD,"dd"],[30,DK],[22,GRN]],
  rsi14:[[73,RED],[70,DK],[50,DD,"dd"],[30,DK]],
  macd:[[11,GRN],[5.3,RED]],
  sto:[[93.2,RED],[80,DK],[50,DD,"dd"],[20,DK],[11.5,GRN]],
  roc:[[0.86,RED],[0,DD,"dd"],[-0.75,GRN]],
  mfi:[[88.3,RED],[80,DK],[20,DK],[14,GRN]],
  cci:[[300,RED],[100,DK],[0,DD,"dd"],[-100,DK],[-185,GRN]],
  adx:[[48.2,RED],[13,GRN]]
};
Object.entries(levelSpec).forEach(([k,arr])=>{
  const p=panels[k];
  arr.forEach(l=>{
    gLev.append("line").attr("x1",PX0).attr("x2",PX1).attr("y1",p.y(l[0])).attr("y2",p.y(l[0]))
      .attr("stroke",l[1]).attr("stroke-width",1.1).attr("stroke-dasharray",l[2]?"9,3,2,3":null);
  });
});

// price horizontal annotation lines [value, fromDay, toDay, kind]
const pP = panels.price;
const hLines = [[2019.55,9.07,33.75,"fib"],[2005.8,-0.1,33.75,"pink"],[2010,9.93,34.98,"yel"],[1997.6,12.94,34.98,"yel"],
  [1984.3,-0.1,14.3,"grn"],[1984.3,14.3,33.75,"red"],[1954.65,-0.1,23.35,"grnT"],[1954.65,23.35,34.98,"redT"],
  [1944,11.6,33.75,"fib"],[1926.4,-0.1,33.75,"grn"],[1919.84,9.07,33.75,"fib"],[1911.8,-0.1,23.71,"grn"],[1911.8,23.71,33.75,"red"],
  [1898.31,9.07,33.75,"fib"],[1897.7,-0.5,34.98,"blkT"],[1820.14,9.07,33.75,"fib"]];
const hStyle = {fib:["#86a686",1],pink:["#f2a4a4",2],yel:["#f4f000",3.5],grn:["#3c8c3c",1.3],red:["#ff2a2a",1.3],grnT:["#2a8a2a",2.5],redT:["#ff2020",2.5],blkT:["#000",3]};
const gPA = gLev.append("g").attr("clip-path",pP.wclip);
hLines.forEach(h=>{
  const s=hStyle[h[3]];
  gPA.append("line").attr("x1",x(h[1])).attr("x2",x(h[2])).attr("y1",pP.y(h[0])).attr("y2",pP.y(h[0])).attr("stroke",s[0]).attr("stroke-width",s[1]);
});
// highlight boxes [fromDay,toDay,lowValue,highValue,color]
const boxes = [[31.0,34.98,1903.2,1908.5,"#f2ea10"],[29.03,34.98,1862.0,1864.7,"#f2ea10"],[32.5,34.98,1944.1,1947.7,"#22e022"]];
boxes.forEach(b=>{
  gPA.append("rect").attr("x",x(b[0])).attr("width",x(b[1])-x(b[0])).attr("y",pP.y(b[3])).attr("height",pP.y(b[2])-pP.y(b[3])).attr("fill",b[4]);
});

// vertical markers
const mStyle = {dg:["#2f5f2f",1,"3,3"],gg:["#8fae8f",1,"3,3"],mg:["#ff00ff",1.5,"3,2"],mgT:["#ff00ff",3,"4,2"],rd:["#ff0000",1.5,"3,2"],lr:["#ff8c8c",1,"3,3"],bk:["#000",2,"3,2"]};
markerDays.forEach((d,i)=>{
  const s=mStyle[markerKinds[i]];
  gMark.append("line").attr("x1",x(d)).attr("x2",x(d)).attr("y1",panels.rsi5.top).attr("y2",panels.adx.bottom)
    .attr("stroke",s[0]).attr("stroke-width",s[1]).attr("stroke-dasharray",s[2]);
});

// helpers
function line(k,data,color,w){
  const p=panels[k];
  gSer.append("path").attr("d",d3.line().x(d=>x(d[0])).y(d=>p.y(d[1]))(data))
    .attr("fill","none").attr("stroke",color).attr("stroke-width",w).attr("stroke-linejoin","round").attr("clip-path",p.clip);
}
let fillId=0;
function thresholdFill(k,data,hi,lo,hiCol,loCol){
  const p=panels[k];
  const yH=p.y(hi);
  const cpH=mkClip("f"+(fillId++),PX0,p.top,PX1,yH);
  gSer.append("path").attr("d",d3.area().x(d=>x(d[0])).y0(yH).y1(d=>p.y(d[1]))(data)).attr("fill",hiCol).attr("clip-path",cpH);
  const yL=p.y(lo);
  const cpL=mkClip("f"+(fillId++),PX0,yL,PX1,p.bottom);
  gSer.append("path").attr("d",d3.area().x(d=>x(d[0])).y0(yL).y1(d=>p.y(d[1]))(data)).attr("fill",loCol).attr("clip-path",cpL);
}
function trends(k,arr,color,wide){
  const p=panels[k];
  arr.forEach(t=>{
    gTrend.append("line").attr("x1",x(t[0])).attr("y1",p.y(t[1])).attr("x2",x(t[2])).attr("y2",p.y(t[3]))
      .attr("stroke",color).attr("stroke-width",2).attr("clip-path",wide?p.wclip:p.clip);
  });
}
const FG="#4b8a4b", FO="#f59a5c";

// RSI(5)
thresholdFill("rsi5",rsi5,70,30,FG,FO);
line("rsi5",rsi5,"#505050",1.1);
trends("rsi5",rsi5Red,"#ff1a1a"); trends("rsi5",rsi5Green,"#1f6e1f");
// RSI(14)
thresholdFill("rsi14",rsi14,70,30,FG,FO);
line("rsi14",rsi14,"#505050",1.1);
trends("rsi14",rsi14Red,"#ff1a1a"); trends("rsi14",rsi14Green,"#1f6e1f");
// MACD
thresholdFill("macd",macdHist,0,0,"#3f7f3f","#ee8a48");
line("macd",macdSignal,"#f39a4a",1.2);
line("macd",macdLine,"#111",1.5);
trends("macd",macdRed,"#ff1a1a"); trends("macd",macdGreen,"#1f6e1f");

// PRICE
const gP = gSer.append("g").attr("clip-path",pP.clip);
const bbPoly = bbUpper.concat(bbLower.slice().reverse());
gP.append("path").attr("d",d3.line().x(d=>x(d[0])).y(d=>pP.y(d[1]))(bbPoly)+"Z").attr("fill","#f3dcc4").attr("opacity",0.75);
gP.append("path").attr("d",d3.line().x(d=>x(d[0])).y(d=>pP.y(d[1]))(bbUpper)).attr("fill","none").attr("stroke","#ead0ae").attr("stroke-width",1);
gP.append("path").attr("d",d3.line().x(d=>x(d[0])).y(d=>pP.y(d[1]))(bbLower)).attr("fill","none").attr("stroke","#ead0ae").attr("stroke-width",1);
gP.append("path").attr("d",d3.line().x(d=>x(d[0])).y(d=>pP.y(d[1]))(ma200)).attr("fill","none").attr("stroke","#f06060").attr("stroke-width",1.2);
gP.append("path").attr("d",d3.line().x(d=>x(d[0])).y(d=>pP.y(d[1]))(ma100)).attr("fill","none").attr("stroke","#3a3a8a").attr("stroke-width",1.2);
for (let i=1;i<priceClose.length;i++){
  const a=priceClose[i-1], b=priceClose[i];
  gP.append("line").attr("x1",x(a[0])).attr("y1",pP.y(a[1])).attr("x2",x(b[0])).attr("y2",pP.y(b[1]))
    .attr("stroke",b[1]<a[1]?"#ee1111":"#2a2a2a").attr("stroke-width",2.2).attr("stroke-linecap","square");
}
// price trend lines
trends("price",priceBlackLines,"#111",true);
gTrend.append("line").attr("x1",x(priceLTLine[0])).attr("y1",pP.y(priceLTLine[1])).attr("x2",x(priceLTLine[2])).attr("y2",pP.y(priceLTLine[3]))
  .attr("stroke","#000").attr("stroke-width",4.5).attr("clip-path",mkClip("ltc",0,pP.top,WX1,pP.bottom));
trends("price",priceRedLines,"#ff1a1a",true);
// magenta target bar [day, topValue, bottomValue]
const magentaBar = [28.03,1974.1,1897.5];
gTrend.append("line").attr("x1",x(magentaBar[0])).attr("x2",x(magentaBar[0])).attr("y1",pP.y(magentaBar[1])).attr("y2",pP.y(magentaBar[2]))
  .attr("stroke","#ff00ff").attr("stroke-width",4);

// STO
line("sto",stoD,"#f39a4a",1.3);
line("sto",stoK,"#111",1.4);
trends("sto",stoRed,"#ff1a1a"); trends("sto",stoGreen,"#1f6e1f");
// ROC
line("roc",roc,"#111",1.3);
trends("roc",rocRed,"#ff1a1a"); trends("roc",rocGreen,"#1f6e1f");
// MFI
thresholdFill("mfi",mfi,80,20,FG,FO);
line("mfi",mfi,"#505050",1.1);
trends("mfi",mfiRed,"#ff1a1a"); trends("mfi",mfiGreen,"#1f6e1f");
// CCI
thresholdFill("cci",cci,100,-100,FG,FO);
line("cci",cci,"#505050",1.1);
trends("cci",cciRed,"#ff1a1a"); trends("cci",cciGreen,"#1f6e1f");
// ADX
line("adx",adx,"#111",1.6);

// panel borders
Object.values(panels).forEach(p=>{
  gTxt.append("rect").attr("x",PX0).attr("y",p.top).attr("width",PX1-PX0).attr("height",p.bottom-p.top).attr("fill","none").attr("stroke","#a9baa9").attr("stroke-width",1);
});

// date labels
[866,1592].forEach(yy=>{
  dateLabels.forEach((lab,i)=>{
    gTxt.append("text").attr("x",x(i)).attr("y",yy+3.5).attr("text-anchor","middle").attr("font-size",10)
      .attr("font-weight",lab==="Oct"?"bold":"normal").attr("fill","#333").text(lab);
  });
});

// price point labels
function ptLabel(d,v,txt,above){
  const xx=x(d), yy=pP.y(v)+(above?-9.5:9.5);
  const w=txt.length*4.4+4;
  gTxt.append("rect").attr("x",xx-w/2).attr("y",yy-5.5).attr("width",w).attr("height",11).attr("fill","#f6f6f6").attr("stroke","#aaa").attr("stroke-width",0.8);
  gTxt.append("text").attr("x",xx).attr("y",yy+3).attr("text-anchor","middle").attr("font-size",8).attr("fill","#444").text(txt);
}
priceHighLabels.forEach(l=>ptLabel(l[0],l[1],l[2],true));
priceLowLabels.forEach(l=>ptLabel(l[0],l[1],l[2],false));

// fib texts [value, text]
const fibTexts = [[2019.55,"100.0%: 2019.55"],[1919.84,"61.8%: 1919.84"],[1898.31,"38.2%: 1898.31"],[1820.14,"0.0%: 1820.14"]];
fibTexts.forEach(f=>{
  gTxt.append("text").attr("x",PX1-2).attr("y",pP.y(f[0])-2).attr("text-anchor","end").attr("font-size",9).attr("fill","#8a8a8a").text(f[1]);
});

// axis value tags (measured to fit inside the right margin)
const tagCol = {g:"#666",k:"#000",r:"#e03030",n:"#3a3a8a",o:"#e0a040"};
const lastTagBottom = {};
valBoxes.forEach(b=>{
  let yy=panels[b[0]].y(b[1]);
  const prev = lastTagBottom[b[0]];
  if (prev!==undefined && yy-5 < prev) yy = prev+5;
  lastTagBottom[b[0]] = yy+5;
  const g=gTxt.append("g");
  const path=g.append("path");
  const t=g.append("text").attr("x",PX1+5).attr("y",yy+3).attr("font-size",8).attr("font-weight",b[4]?"bold":"normal").attr("fill","#222").text(b[2]);
  let w=t.node().getComputedTextLength();
  if (PX1+5+w > WX1-2){ const s=(WX1-2-PX1-5)/w; t.attr("textLength",w*s).attr("lengthAdjust","spacingAndGlyphs"); w=w*s; }
  const x2=Math.min(PX1+7+w,WX1-0.5);
  path.attr("d",`M${PX1},${yy} L${PX1+3.5},${yy-5} L${x2},${yy-5} L${x2},${yy+5} L${PX1+3.5},${yy+5} Z`)
    .attr("fill","#fff").attr("stroke",tagCol[b[3]]).attr("stroke-width",1);
});

// panel titles
const MONO = "'DejaVu Sans Mono',monospace";
function title(k,parts,dy){
  const p=panels[k];
  const t=gTxt.append("text").attr("x",24).attr("y",p.top+(dy||9)).attr("font-size",8.5).attr("font-family",MONO);
  parts.forEach(pt=>t.append("tspan").attr("fill",pt[1]||"#555").text(pt[0]));
}
function icon(k,dy,col){
  const p=panels[k], yy=p.top+(dy||9);
  gTxt.append("path").attr("d",`M15,${yy} L17,${yy-6} L19,${yy-3} L21,${yy-7} L22,${yy} Z`).attr("fill",col||"#3a7a3a");
}
icon("rsi5"); title("rsi5",[["RSI(5) 85.23"]]);
icon("rsi14"); title("rsi14",[["RSI(14) 81.56"]]);
icon("macd"); title("macd",[["MACD(12,26,9) 13.287, "],["12.496","#f39a4a"],[", 0.791"]]);
title("sto",[["— ","#111"],["Slow STO %K(14) %D(3) 97.64, "],["97.67","#f39a4a"]]);
icon("roc"); title("roc",[["ROC(12) 0.99"]]);
icon("mfi"); title("mfi",[["MFI(14) 93.12"]]);
icon("cci"); title("cci",[["CCI(20) 89.14"]]);
icon("adx"); title("adx",[["ADX(14) 41.03"]]);
// price legend
icon("price",7,"#444");
title("price",[["$SPX (30 min) 1941.28"]],7);
title("price",[["—","#3a3a8a"],["MA(100) 1890.14","#3a3a8a"]],16);
title("price",[["—","#e03030"],["MA(200) 1920.96","#e03030"]],25);
title("price",[["BB(20,2.0) 1886.55 - 1920.60 - 1954.65","#c9a45a"]],34);

// header
const h1=gTxt.append("text").attr("x",13).attr("y",10.5);
h1.append("tspan").attr("font-size",13).attr("font-weight","bold").attr("fill","#222").text("$SPX ");
h1.append("tspan").attr("font-size",10).attr("fill","#444").text("S&P 500 Large Cap Index ");
h1.append("tspan").attr("font-size",9).attr("fill","#888").text("INDX");
gTxt.append("text").attr("x",13).attr("y",22).attr("font-size",9).attr("fill","#333").text("21-Oct-2014");
gTxt.append("text").attr("x",PX1).attr("y",10).attr("text-anchor","end").attr("font-size",10.5).attr("fill","#777").text("© StockCharts.com");
const hq=[["Open",1],[" 1909.38  ",0],["High",1],[" 1942.45  ",0],["Low",1],[" 1909.38  ",0],["Close",1],[" 1941.28  ",0],["Volume",1],[" 25.1M  ",0],["Chg",1],[" +37.27 (+1.96%) ",0]];
const h2=gTxt.append("text").attr("x",911).attr("y",20.5).attr("text-anchor","end").attr("font-size",10).style("white-space","pre");
hq.forEach(q=>h2.append("tspan").attr("font-weight",q[1]?"bold":"normal").attr("fill",q[1]?"#222":"#666").text(q[0]));
gTxt.append("text").attr("x",913).attr("y",20.5).attr("font-size",8).attr("fill","#2a2").text("▲");

// callouts [boxDay0, boxDay1, topValue, bottomValue, tipDay, tipValue, baseDay0, baseDay1, lines]
function callout(k,c){
  const p=panels[k];
  const bx0=x(c[0]), bx1=x(c[1]), by0=p.y(c[2]), by1=p.y(c[3]);
  const tx=x(c[4]), ty=p.y(c[5]);
  gTxt.append("rect").attr("x",bx0+2).attr("y",by0+2).attr("width",bx1-bx0).attr("height",by1-by0).attr("fill","#bbb");
  gTxt.append("path").attr("d",`M${x(c[6])},${by0+1} L${tx},${ty} L${x(c[7])},${by0+1}`).attr("fill","#fff").attr("stroke","#999").attr("stroke-width",1);
  gTxt.append("rect").attr("x",bx0).attr("y",by0).attr("width",bx1-bx0).attr("height",by1-by0).attr("fill","#fff").attr("stroke","#aaa");
  c[8].forEach((s,i)=>gTxt.append("text").attr("x",bx0+3).attr("y",by0+14+i*16).attr("font-size",13.5).attr("fill","#111").text(s));
}
callout("price",[8.33,11.6,1949.8,1930.5,12.71,1983.9,11.2,11.5,["LT Diag from","60m chart."]]);
callout("price",[24.57,26.0,1858.2,1846.6,28.04,1884.2,25.6,25.9,["IHnS"]]);
callout("sto",[31.89,34.55,42.2,27.1,31.0,59.8,32.0,32.3,["Overthrow"]]);
</script></body></html>
